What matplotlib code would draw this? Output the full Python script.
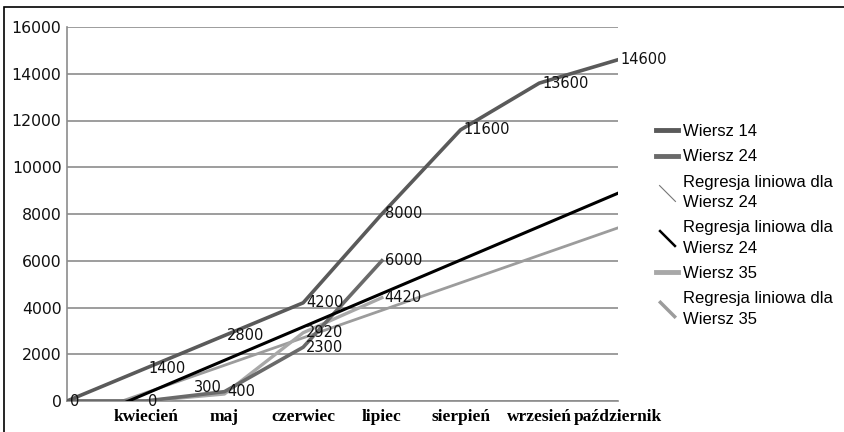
import numpy as np
import matplotlib
matplotlib.use("Agg")
import matplotlib.pyplot as plt
from matplotlib.lines import Line2D
from matplotlib.path import Path
from matplotlib.patches import Rectangle

# months on the category axis (first slot has no label)
months = ["", "kwiecień", "maj", "czerwiec", "lipiec", "sierpień", "wrzesień", "październik"]

wiersz_14 = [0, 1400, 2800, 4200, 8000, 11600, 13600, 14600]
wiersz_24 = [0, 0, 400, 2300, 6000]
wiersz_35 = [0, 0, 300, 2920, 4420]

yticks = [0, 2000, 4000, 6000, 8000, 10000, 12000, 14000, 16000]

C14 = "#5a5a5a"
C24 = "#6a6a6a"
C35 = "#a8a8a8"
CREG35 = "#9c9c9c"
GRID = "#8c8c8c"

fig = plt.figure(figsize=(8.45, 4.32), dpi=100)
ax = fig.add_axes([67 / 845, 1 - 401 / 432, (618 - 67) / 845, (401 - 27) / 432])

# thin frame on the left and top of the picture
fig.patches.append(Rectangle((4 / 845, -0.5), 2, 0.5 + (432 - 7) / 432,
                             transform=fig.transFigure, fill=False,
                             edgecolor="black", linewidth=1.2))

for y in yticks:
    ax.axhline(y, color=GRID, linewidth=1.2, zorder=0)

x14 = np.arange(len(wiersz_14))
x24 = np.arange(len(wiersz_24))
x35 = np.arange(len(wiersz_35))

# linear trend lines over the full category range
xs = np.array([0, len(months) - 1])
k24, b24 = np.polyfit(x24, wiersz_24, 1)
k35, b35 = np.polyfit(x35, wiersz_35, 1)

ax.plot(xs, k35 * xs + b35, color=CREG35, linewidth=2.0, zorder=2)
ax.plot(x35, wiersz_35, color=C35, linewidth=2.4, zorder=3)
ax.plot(x24, wiersz_24, color=C24, linewidth=2.6, zorder=3)
ax.plot(x14, wiersz_14, color=C14, linewidth=2.6, zorder=3)
ax.plot(xs, k24 * xs + b24, color="black", linewidth=2.2, zorder=4)

# value labels; identical labels at the same spot are drawn once
lbl = dict(fontsize=10.5, family="DejaVu Sans", va="center", color="#111111", zorder=5)
done = set()
for xs_, ys_ in [(x14, wiersz_14), (x24, wiersz_24), (x35, wiersz_35)]:
    for xi, yi in zip(xs_, ys_):
        if (xi, yi) in done:
            continue
        done.add((xi, yi))
        if ys_ is wiersz_35 and yi == 300:
            ax.annotate(str(yi), (xi, yi), xytext=(-2, 5), textcoords="offset points",
                        ha="right", **lbl)
        else:
            ax.annotate(str(yi), (xi, yi), xytext=(2, 0), textcoords="offset points",
                        ha="left", **lbl)

ax.set_xlim(0, len(months) - 1)
ax.set_ylim(0, 16000)
ax.set_yticks(yticks)
ax.set_yticklabels([str(v) for v in yticks], fontsize=11.3, family="DejaVu Sans", color="#111111")
ax.set_xticks(np.arange(len(months)))
ax.set_xticklabels(months, fontsize=12.5, family="Liberation Serif", fontweight="bold")
ax.tick_params(axis="x", length=0, pad=5.5)
ax.tick_params(axis="y", length=0, pad=4)
for s in ["top", "right"]:
    ax.spines[s].set_visible(False)
for s in ["left", "bottom"]:
    ax.spines[s].set_color(GRID)
    ax.spines[s].set_linewidth(1.2)

diag = Path([(-1, 1), (1, -1)], [Path.MOVETO, Path.LINETO])
handles = [
    Line2D([], [], color=C14, linewidth=3.5),
    Line2D([], [], color=C24, linewidth=3.5),
    Line2D([], [], linestyle="none", marker=diag, markersize=12,
           markeredgecolor="#777777", markeredgewidth=0.8),
    Line2D([], [], linestyle="none", marker=diag, markersize=12,
           markeredgecolor="black", markeredgewidth=1.8),
    Line2D([], [], color=C35, linewidth=3.5),
    Line2D([], [], linestyle="none", marker=diag, markersize=12,
           markeredgecolor=CREG35, markeredgewidth=2.5),
]
labels = ["Wiersz 14", "Wiersz 24", "Regresja liniowa dla\nWiersz 24",
          "Regresja liniowa dla\nWiersz 24", "Wiersz 35", "Regresja liniowa dla\nWiersz 35"]
leg = fig.legend(handles, labels, loc="upper left", bbox_to_anchor=(656 / 845, 1 - 124 / 432),
                 frameon=False, handlelength=1.3, handletextpad=0.3,
                 labelspacing=0.62, borderaxespad=0, borderpad=0,
                 prop={"family": "Liberation Sans", "size": 12})
for t in leg.get_texts():
    t.set_linespacing(1.45)

fig.savefig("out.png", dpi=100)
